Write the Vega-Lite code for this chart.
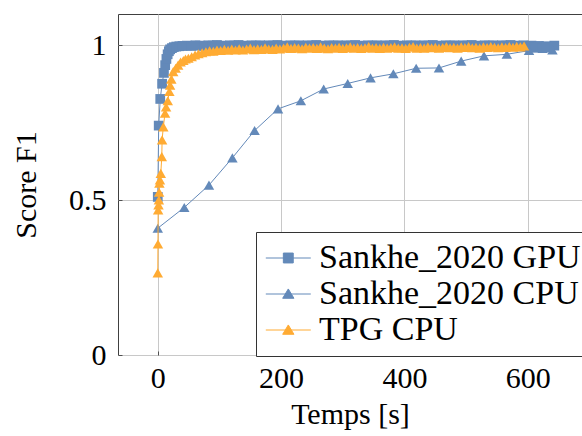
{
"$schema": "https://vega.github.io/schema/vega-lite/v6.json",
"width": 464, "height": 341,
"autosize": {"type": "none"},
"padding": {"left": 118, "top": 14, "right": 0, "bottom": 81},
"config": {
  "view": {"stroke": "#404040", "strokeWidth": 1},
  "font": "Liberation Serif",
  "axis": {"labelFont": "Liberation Serif", "titleFont": "Liberation Serif", "labelFontSize": 30, "titleFontSize": 30, "titleFontWeight": "normal", "labelColor": "#000", "titleColor": "#000", "grid": true, "gridColor": "#c8c8c8", "gridWidth": 1, "domain": false, "ticks": true, "tickSize": -4, "tickColor": "#505050", "tickWidth": 1},
  "legend": {"labelFont": "Liberation Serif", "labelFontSize": 34, "labelColor": "#000", "labelLimit": 500}
},
"datasets": {
"gpu": [{"series":"Sankhe_2020 GPU","t":0,"f1":0.51},{"series":"Sankhe_2020 GPU","t":1.5,"f1":0.74},{"series":"Sankhe_2020 GPU","t":4,"f1":0.826},{"series":"Sankhe_2020 GPU","t":7,"f1":0.875},{"series":"Sankhe_2020 GPU","t":10,"f1":0.91},{"series":"Sankhe_2020 GPU","t":12,"f1":0.935},{"series":"Sankhe_2020 GPU","t":14,"f1":0.955},{"series":"Sankhe_2020 GPU","t":16,"f1":0.97},{"series":"Sankhe_2020 GPU","t":18,"f1":0.98},{"series":"Sankhe_2020 GPU","t":20,"f1":0.986},{"series":"Sankhe_2020 GPU","t":23,"f1":0.99},{"series":"Sankhe_2020 GPU","t":26,"f1":0.993},{"series":"Sankhe_2020 GPU","t":30,"f1":0.995},{"series":"Sankhe_2020 GPU","t":35,"f1":0.996},{"series":"Sankhe_2020 GPU","t":40,"f1":0.997},{"series":"Sankhe_2020 GPU","t":47,"f1":0.998},{"series":"Sankhe_2020 GPU","t":54,"f1":0.997},{"series":"Sankhe_2020 GPU","t":61,"f1":0.999},{"series":"Sankhe_2020 GPU","t":68,"f1":0.998},{"series":"Sankhe_2020 GPU","t":75,"f1":0.997},{"series":"Sankhe_2020 GPU","t":82,"f1":0.999},{"series":"Sankhe_2020 GPU","t":89,"f1":0.998},{"series":"Sankhe_2020 GPU","t":96,"f1":1.0},{"series":"Sankhe_2020 GPU","t":103,"f1":0.998},{"series":"Sankhe_2020 GPU","t":110,"f1":0.997},{"series":"Sankhe_2020 GPU","t":117,"f1":0.999},{"series":"Sankhe_2020 GPU","t":124,"f1":0.998},{"series":"Sankhe_2020 GPU","t":131,"f1":1.0},{"series":"Sankhe_2020 GPU","t":138,"f1":0.998},{"series":"Sankhe_2020 GPU","t":145,"f1":0.997},{"series":"Sankhe_2020 GPU","t":152,"f1":0.999},{"series":"Sankhe_2020 GPU","t":159,"f1":0.998},{"series":"Sankhe_2020 GPU","t":166,"f1":0.999},{"series":"Sankhe_2020 GPU","t":173,"f1":0.997},{"series":"Sankhe_2020 GPU","t":180,"f1":0.999},{"series":"Sankhe_2020 GPU","t":187,"f1":0.998},{"series":"Sankhe_2020 GPU","t":194,"f1":1.0},{"series":"Sankhe_2020 GPU","t":201,"f1":0.998},{"series":"Sankhe_2020 GPU","t":208,"f1":0.997},{"series":"Sankhe_2020 GPU","t":215,"f1":0.999},{"series":"Sankhe_2020 GPU","t":222,"f1":0.998},{"series":"Sankhe_2020 GPU","t":229,"f1":0.999},{"series":"Sankhe_2020 GPU","t":236,"f1":0.997},{"series":"Sankhe_2020 GPU","t":243,"f1":0.999},{"series":"Sankhe_2020 GPU","t":250,"f1":0.998},{"series":"Sankhe_2020 GPU","t":257,"f1":1.0},{"series":"Sankhe_2020 GPU","t":264,"f1":0.998},{"series":"Sankhe_2020 GPU","t":271,"f1":0.997},{"series":"Sankhe_2020 GPU","t":278,"f1":0.999},{"series":"Sankhe_2020 GPU","t":285,"f1":0.998},{"series":"Sankhe_2020 GPU","t":292,"f1":0.999},{"series":"Sankhe_2020 GPU","t":299,"f1":0.997},{"series":"Sankhe_2020 GPU","t":306,"f1":0.999},{"series":"Sankhe_2020 GPU","t":313,"f1":0.998},{"series":"Sankhe_2020 GPU","t":320,"f1":1.0},{"series":"Sankhe_2020 GPU","t":327,"f1":0.998},{"series":"Sankhe_2020 GPU","t":334,"f1":0.997},{"series":"Sankhe_2020 GPU","t":341,"f1":0.999},{"series":"Sankhe_2020 GPU","t":348,"f1":0.998},{"series":"Sankhe_2020 GPU","t":355,"f1":0.999},{"series":"Sankhe_2020 GPU","t":362,"f1":0.997},{"series":"Sankhe_2020 GPU","t":369,"f1":0.999},{"series":"Sankhe_2020 GPU","t":376,"f1":0.998},{"series":"Sankhe_2020 GPU","t":383,"f1":1.0},{"series":"Sankhe_2020 GPU","t":390,"f1":0.998},{"series":"Sankhe_2020 GPU","t":397,"f1":0.997},{"series":"Sankhe_2020 GPU","t":404,"f1":0.999},{"series":"Sankhe_2020 GPU","t":411,"f1":0.998},{"series":"Sankhe_2020 GPU","t":418,"f1":0.999},{"series":"Sankhe_2020 GPU","t":425,"f1":0.997},{"series":"Sankhe_2020 GPU","t":432,"f1":0.999},{"series":"Sankhe_2020 GPU","t":439,"f1":0.998},{"series":"Sankhe_2020 GPU","t":446,"f1":1.0},{"series":"Sankhe_2020 GPU","t":453,"f1":0.998},{"series":"Sankhe_2020 GPU","t":460,"f1":0.997},{"series":"Sankhe_2020 GPU","t":467,"f1":0.999},{"series":"Sankhe_2020 GPU","t":474,"f1":0.998},{"series":"Sankhe_2020 GPU","t":481,"f1":0.999},{"series":"Sankhe_2020 GPU","t":488,"f1":0.997},{"series":"Sankhe_2020 GPU","t":495,"f1":0.999},{"series":"Sankhe_2020 GPU","t":502,"f1":0.998},{"series":"Sankhe_2020 GPU","t":509,"f1":1.0},{"series":"Sankhe_2020 GPU","t":516,"f1":0.998},{"series":"Sankhe_2020 GPU","t":523,"f1":0.997},{"series":"Sankhe_2020 GPU","t":530,"f1":0.999},{"series":"Sankhe_2020 GPU","t":537,"f1":0.998},{"series":"Sankhe_2020 GPU","t":544,"f1":0.999},{"series":"Sankhe_2020 GPU","t":551,"f1":0.997},{"series":"Sankhe_2020 GPU","t":558,"f1":0.999},{"series":"Sankhe_2020 GPU","t":565,"f1":0.998},{"series":"Sankhe_2020 GPU","t":572,"f1":1.0},{"series":"Sankhe_2020 GPU","t":579,"f1":0.998},{"series":"Sankhe_2020 GPU","t":586,"f1":0.997},{"series":"Sankhe_2020 GPU","t":593,"f1":0.999},{"series":"Sankhe_2020 GPU","t":600,"f1":0.993},{"series":"Sankhe_2020 GPU","t":606,"f1":0.998},{"series":"Sankhe_2020 GPU","t":612,"f1":0.991},{"series":"Sankhe_2020 GPU","t":618,"f1":0.997},{"series":"Sankhe_2020 GPU","t":624,"f1":0.99},{"series":"Sankhe_2020 GPU","t":630,"f1":0.996},{"series":"Sankhe_2020 GPU","t":636,"f1":0.992},{"series":"Sankhe_2020 GPU","t":643,"f1":0.998}],
"cpu": [{"series":"Sankhe_2020 CPU","t":0,"f1":0.409},{"series":"Sankhe_2020 CPU","t":43,"f1":0.476},{"series":"Sankhe_2020 CPU","t":83,"f1":0.548},{"series":"Sankhe_2020 CPU","t":121,"f1":0.636},{"series":"Sankhe_2020 CPU","t":157,"f1":0.724},{"series":"Sankhe_2020 CPU","t":195,"f1":0.794},{"series":"Sankhe_2020 CPU","t":232,"f1":0.82},{"series":"Sankhe_2020 CPU","t":269,"f1":0.858},{"series":"Sankhe_2020 CPU","t":308,"f1":0.876},{"series":"Sankhe_2020 CPU","t":345,"f1":0.894},{"series":"Sankhe_2020 CPU","t":382,"f1":0.907},{"series":"Sankhe_2020 CPU","t":419,"f1":0.925},{"series":"Sankhe_2020 CPU","t":456,"f1":0.926},{"series":"Sankhe_2020 CPU","t":492,"f1":0.948},{"series":"Sankhe_2020 CPU","t":529,"f1":0.965},{"series":"Sankhe_2020 CPU","t":566,"f1":0.97},{"series":"Sankhe_2020 CPU","t":602,"f1":0.982},{"series":"Sankhe_2020 CPU","t":640,"f1":0.984}],
"tpg": [{"series":"TPG CPU","t":0,"f1":0.265},{"series":"TPG CPU","t":0.3,"f1":0.358},{"series":"TPG CPU","t":0.6,"f1":0.468},{"series":"TPG CPU","t":1.2,"f1":0.484},{"series":"TPG CPU","t":1.8,"f1":0.5},{"series":"TPG CPU","t":2.2,"f1":0.525},{"series":"TPG CPU","t":2.6,"f1":0.554},{"series":"TPG CPU","t":3.5,"f1":0.565},{"series":"TPG CPU","t":4.9,"f1":0.586},{"series":"TPG CPU","t":6.5,"f1":0.64},{"series":"TPG CPU","t":7,"f1":0.694},{"series":"TPG CPU","t":9,"f1":0.736},{"series":"TPG CPU","t":11.8,"f1":0.78},{"series":"TPG CPU","t":13.5,"f1":0.8},{"series":"TPG CPU","t":16.2,"f1":0.82},{"series":"TPG CPU","t":18.8,"f1":0.85},{"series":"TPG CPU","t":20,"f1":0.87},{"series":"TPG CPU","t":22,"f1":0.89},{"series":"TPG CPU","t":25,"f1":0.914},{"series":"TPG CPU","t":29,"f1":0.925},{"series":"TPG CPU","t":33,"f1":0.935},{"series":"TPG CPU","t":37,"f1":0.945},{"series":"TPG CPU","t":41.5,"f1":0.95},{"series":"TPG CPU","t":45,"f1":0.955},{"series":"TPG CPU","t":49.6,"f1":0.957},{"series":"TPG CPU","t":55,"f1":0.962},{"series":"TPG CPU","t":60.5,"f1":0.968},{"series":"TPG CPU","t":66,"f1":0.972},{"series":"TPG CPU","t":72,"f1":0.975},{"series":"TPG CPU","t":78,"f1":0.978},{"series":"TPG CPU","t":84,"f1":0.981},{"series":"TPG CPU","t":90,"f1":0.98},{"series":"TPG CPU","t":96,"f1":0.984},{"series":"TPG CPU","t":102,"f1":0.982},{"series":"TPG CPU","t":108,"f1":0.986},{"series":"TPG CPU","t":114,"f1":0.983},{"series":"TPG CPU","t":120,"f1":0.987},{"series":"TPG CPU","t":126,"f1":0.984},{"series":"TPG CPU","t":132,"f1":0.988},{"series":"TPG CPU","t":138,"f1":0.984},{"series":"TPG CPU","t":144,"f1":0.987},{"series":"TPG CPU","t":150,"f1":0.99},{"series":"TPG CPU","t":156,"f1":0.985},{"series":"TPG CPU","t":162,"f1":0.988},{"series":"TPG CPU","t":168,"f1":0.986},{"series":"TPG CPU","t":174,"f1":0.991},{"series":"TPG CPU","t":180,"f1":0.987},{"series":"TPG CPU","t":186,"f1":0.986},{"series":"TPG CPU","t":192,"f1":0.99},{"series":"TPG CPU","t":198,"f1":0.987},{"series":"TPG CPU","t":204,"f1":0.99},{"series":"TPG CPU","t":210,"f1":0.994},{"series":"TPG CPU","t":216,"f1":0.989},{"series":"TPG CPU","t":222,"f1":0.992},{"series":"TPG CPU","t":228,"f1":0.99},{"series":"TPG CPU","t":234,"f1":0.988},{"series":"TPG CPU","t":240,"f1":0.993},{"series":"TPG CPU","t":246,"f1":0.99},{"series":"TPG CPU","t":252,"f1":0.992},{"series":"TPG CPU","t":258,"f1":0.989},{"series":"TPG CPU","t":264,"f1":0.994},{"series":"TPG CPU","t":270,"f1":0.99},{"series":"TPG CPU","t":276,"f1":0.988},{"series":"TPG CPU","t":282,"f1":0.992},{"series":"TPG CPU","t":288,"f1":0.99},{"series":"TPG CPU","t":294,"f1":0.993},{"series":"TPG CPU","t":300,"f1":0.989},{"series":"TPG CPU","t":306,"f1":0.991},{"series":"TPG CPU","t":312,"f1":0.994},{"series":"TPG CPU","t":318,"f1":0.99},{"series":"TPG CPU","t":324,"f1":0.992},{"series":"TPG CPU","t":330,"f1":0.989},{"series":"TPG CPU","t":336,"f1":0.991},{"series":"TPG CPU","t":342,"f1":0.995},{"series":"TPG CPU","t":348,"f1":0.99},{"series":"TPG CPU","t":354,"f1":0.992},{"series":"TPG CPU","t":360,"f1":0.989},{"series":"TPG CPU","t":366,"f1":0.993},{"series":"TPG CPU","t":372,"f1":0.99},{"series":"TPG CPU","t":378,"f1":0.992},{"series":"TPG CPU","t":384,"f1":0.994},{"series":"TPG CPU","t":390,"f1":0.99},{"series":"TPG CPU","t":396,"f1":0.991},{"series":"TPG CPU","t":402,"f1":0.989},{"series":"TPG CPU","t":408,"f1":0.993},{"series":"TPG CPU","t":414,"f1":0.995},{"series":"TPG CPU","t":420,"f1":0.99},{"series":"TPG CPU","t":426,"f1":0.992},{"series":"TPG CPU","t":432,"f1":0.99},{"series":"TPG CPU","t":438,"f1":0.994},{"series":"TPG CPU","t":444,"f1":0.991},{"series":"TPG CPU","t":450,"f1":0.993},{"series":"TPG CPU","t":456,"f1":0.99},{"series":"TPG CPU","t":462,"f1":0.992},{"series":"TPG CPU","t":468,"f1":0.995},{"series":"TPG CPU","t":474,"f1":0.991},{"series":"TPG CPU","t":480,"f1":0.993},{"series":"TPG CPU","t":486,"f1":0.99},{"series":"TPG CPU","t":492,"f1":0.994},{"series":"TPG CPU","t":498,"f1":0.992},{"series":"TPG CPU","t":504,"f1":0.995},{"series":"TPG CPU","t":510,"f1":0.991},{"series":"TPG CPU","t":516,"f1":0.993},{"series":"TPG CPU","t":522,"f1":0.99},{"series":"TPG CPU","t":528,"f1":0.994},{"series":"TPG CPU","t":534,"f1":0.992},{"series":"TPG CPU","t":540,"f1":0.995},{"series":"TPG CPU","t":546,"f1":0.993},{"series":"TPG CPU","t":552,"f1":0.991},{"series":"TPG CPU","t":558,"f1":0.994},{"series":"TPG CPU","t":564,"f1":0.992},{"series":"TPG CPU","t":570,"f1":0.995},{"series":"TPG CPU","t":576,"f1":0.993},{"series":"TPG CPU","t":582,"f1":0.996},{"series":"TPG CPU","t":588,"f1":0.994},{"series":"TPG CPU","t":594,"f1":0.997}]
},
"encoding": {
  "x": {"field": "t", "type": "quantitative", "scale": {"domain": [-64.5, 687.9], "nice": false, "zero": false}, "axis": {"values": [0, 200, 400, 600], "title": "Temps [s]", "labelPadding": 12, "titlePadding": 6}},
  "y": {"field": "f1", "type": "quantitative", "scale": {"domain": [0, 1.1], "nice": false}, "axis": {"values": [0, 0.5, 1], "format": ".1~f", "title": "Score F1", "labelPadding": 16, "titlePadding": 27}},
  "color": {"field": "series", "type": "nominal", "scale": {"domain": ["Sankhe_2020 GPU", "Sankhe_2020 CPU", "TPG CPU"], "range": ["#6389B9", "#6389B9", "#FFAB33"]},
    "legend": {"title": null, "orient": "none", "legendX": 138, "legendY": 218, "padding": 9, "rowPadding": 2, "strokeColor": "#333", "fillColor": "#fff", "cornerRadius": 0, "symbolSize": 506, "labelOffset": 20,
      "encode": {"symbols": {"update": {
        "shape": {"signal": "datum.value === 'Sankhe_2020 GPU' ? 'M-1.44,0H2.56M0.12,-0.44H1.0V0.44H0.12Z' : 'M-1.44,0H2.56M0.56,-0.45L1.06,0.38H0.06Z'"},
        "fill": {"signal": "datum.value === 'TPG CPU' ? '#FFAB33' : '#6389B9'"},
        "stroke": {"signal": "datum.value === 'TPG CPU' ? '#FFAB33' : '#6389B9'"},
        "strokeWidth": {"value": 1},
        "size": {"value": 506},
        "opacity": {"value": 1},
        "fillOpacity": {"value": 1},
        "strokeOpacity": {"value": 1}
      }}}}}
},
"layer": [
  {"data": {"name": "gpu"}, "mark": {"type": "line", "strokeWidth": 1}},
  {"data": {"name": "gpu"}, "mark": {"type": "point", "shape": "square", "filled": true, "size": 95, "opacity": 1}},
  {"data": {"name": "cpu"}, "mark": {"type": "line", "strokeWidth": 1}},
  {"data": {"name": "cpu"}, "mark": {"type": "point", "shape": "triangle-up", "filled": true, "size": 110, "opacity": 1}},
  {"data": {"name": "tpg"}, "mark": {"type": "line", "strokeWidth": 1}},
  {"data": {"name": "tpg"}, "mark": {"type": "point", "shape": "triangle-up", "filled": true, "size": 110, "opacity": 1}}
]
}
